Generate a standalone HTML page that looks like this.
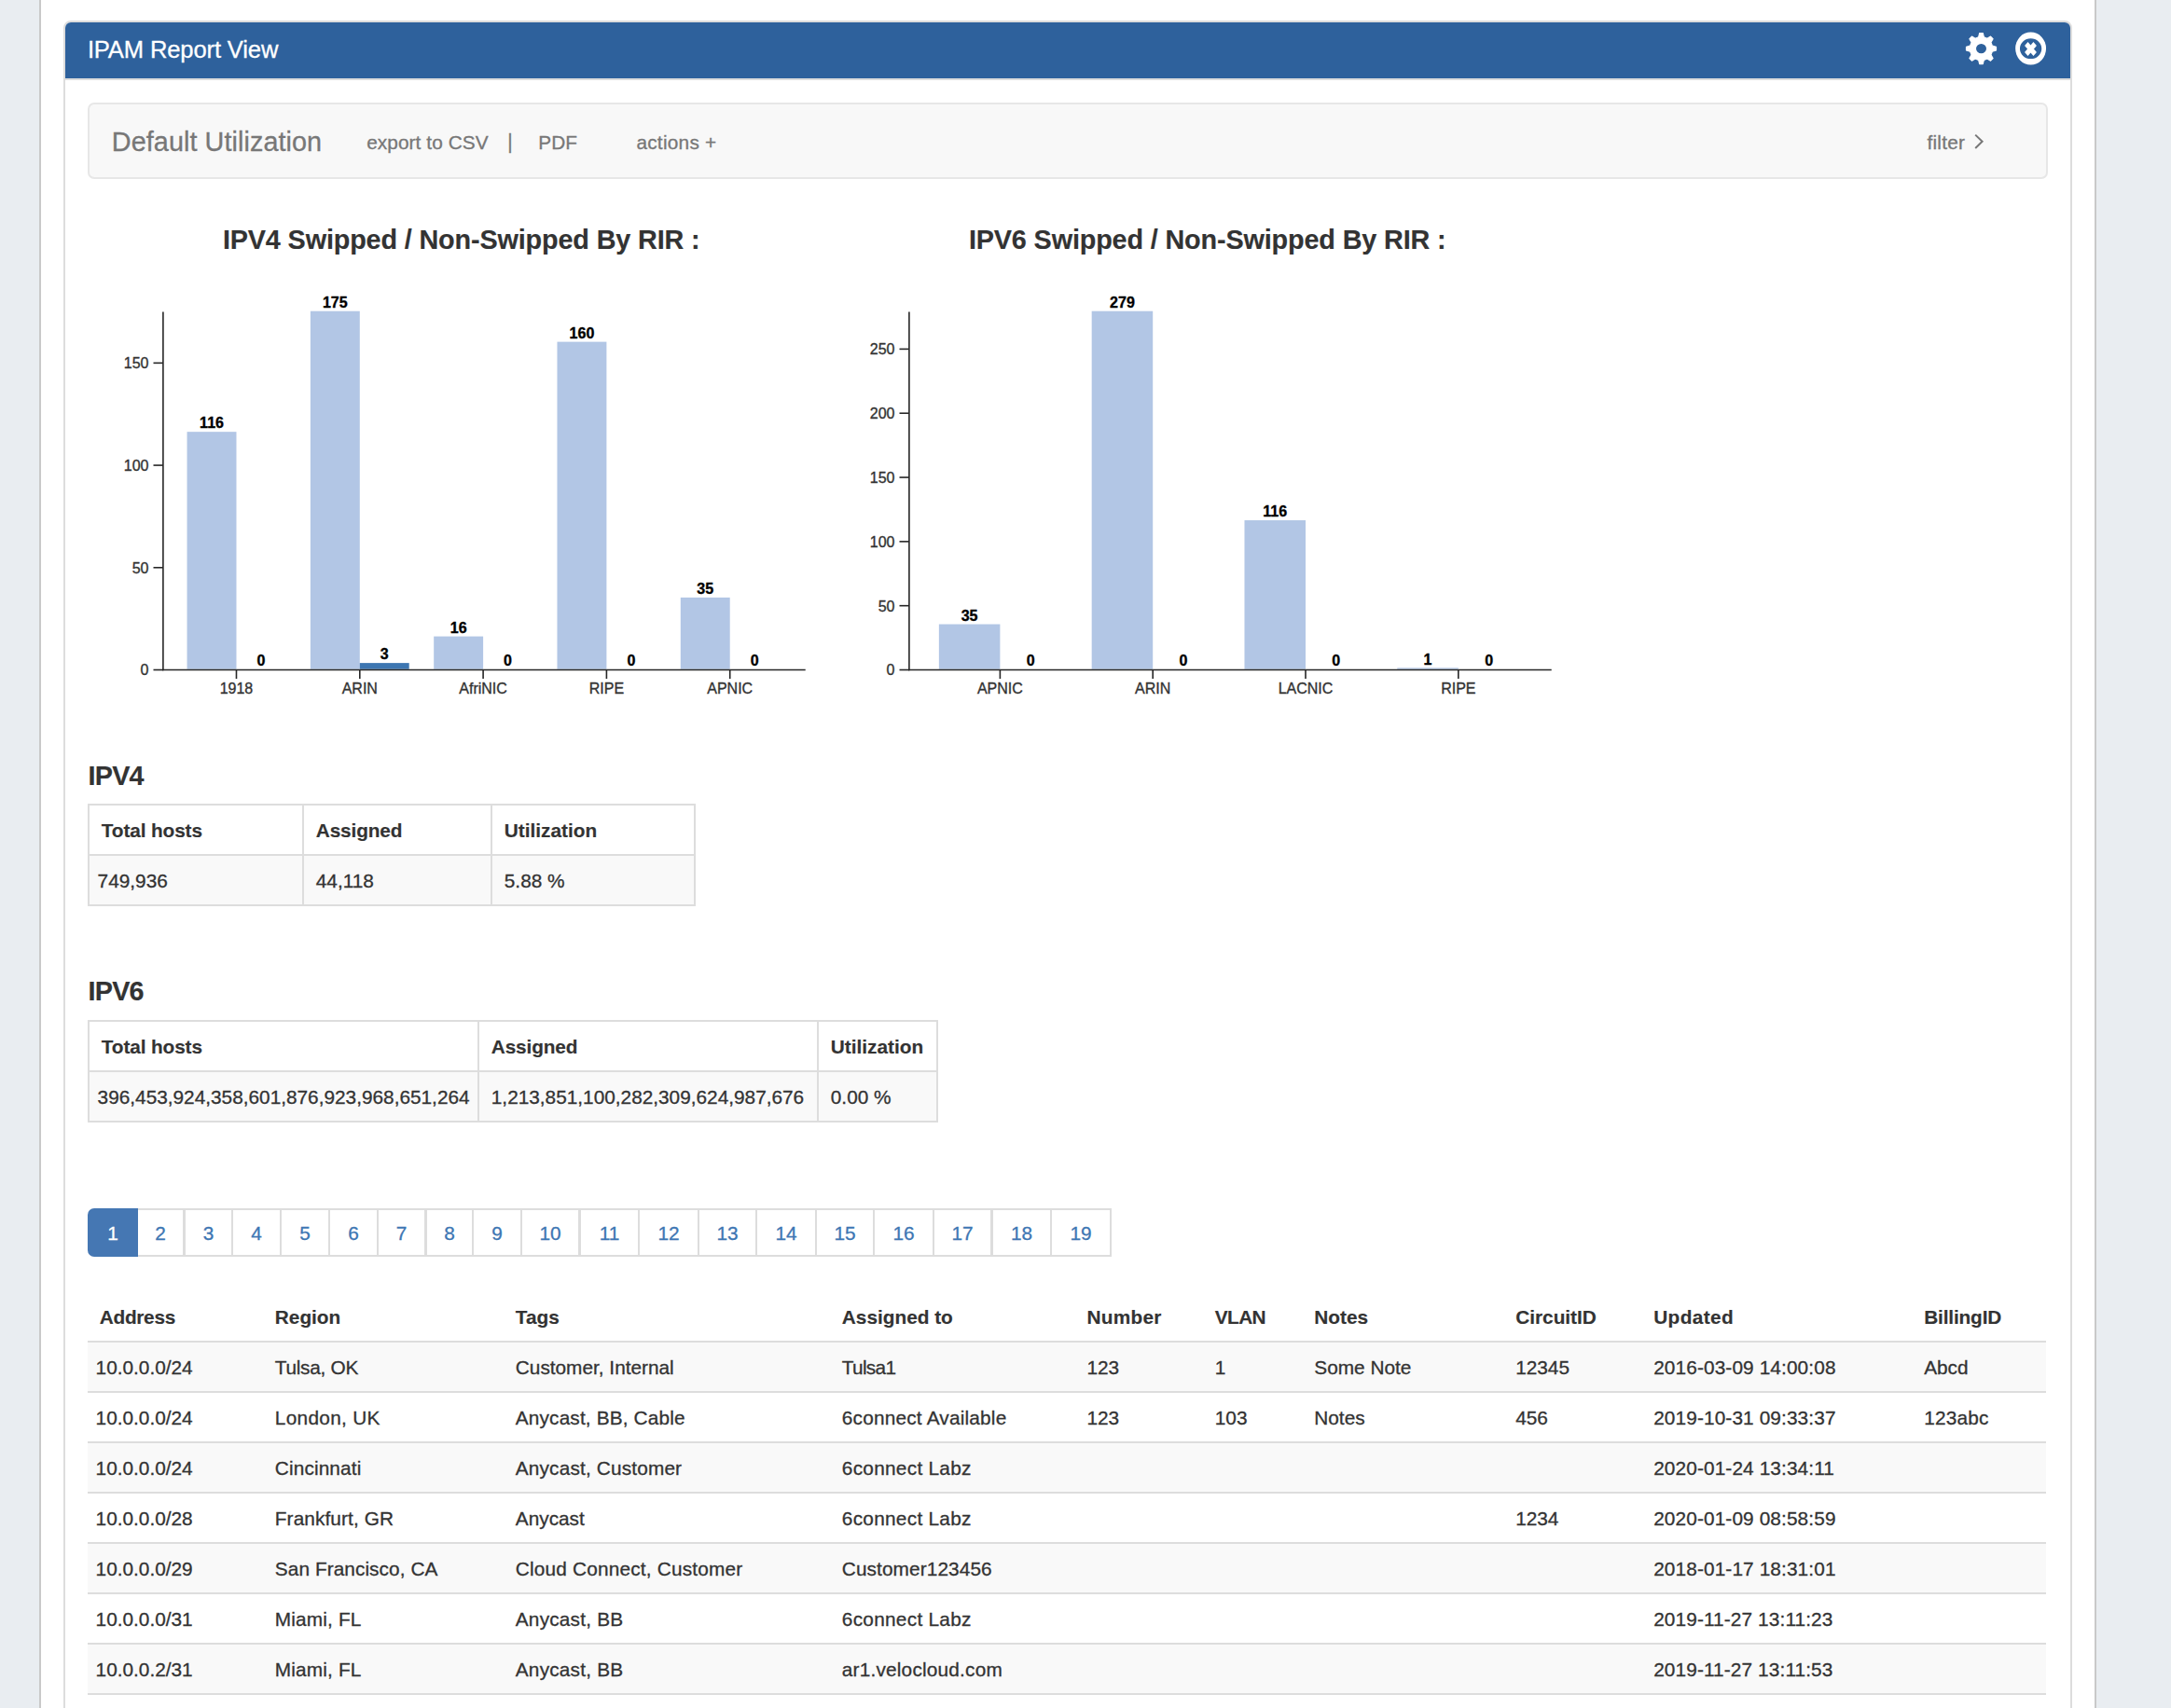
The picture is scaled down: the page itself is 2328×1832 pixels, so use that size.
<!DOCTYPE html>
<html lang="en"><head><meta charset="utf-8"><title>IPAM Report View</title>
<style>
*{box-sizing:border-box;}
html,body{margin:0;padding:0;}
body{-webkit-text-stroke:0.3px;width:2328px;height:1832px;overflow:hidden;background:#fff;font-family:"Liberation Sans", Arial, Helvetica, sans-serif;color:#333;font-size:20.8px;position:relative;}
.abs{position:absolute;}
.t{position:absolute;white-space:nowrap;line-height:1;}
#lside{left:0;top:0;width:42px;height:1832px;background:#e9edf1;}
#lbord{left:42px;top:0;width:2px;height:1832px;background:#c9c9c9;}
#rside{left:2248px;top:0;width:80px;height:1832px;background:#e9edf1;}
#rbord{left:2246px;top:0;width:2px;height:1832px;background:#c9c9c9;}
#panel{left:68px;top:22px;width:2154px;height:1900px;border:2px solid #ddd;border-radius:8px;background:#fff;}
#phead{left:70px;top:24px;width:2150px;height:60px;background:#2e619c;border-radius:6px 6px 0 0;}
#pheadb{left:70px;top:84px;width:2150px;height:2px;background:#ddd;}
#ptitle{left:93.9px;top:40.6px;font-size:25.6px;color:#fff;letter-spacing:-0.15px;}
#nav{left:94px;top:110px;width:2102px;height:82px;background:#f8f8f8;border:2px solid #e7e7e7;border-radius:7px;}
.nv{color:#777;font-size:20.8px;}
#brand{left:119.8px;top:138px;font-size:28.8px;color:#777;letter-spacing:0.07px;}
.h4{font-size:28.8px;font-weight:700;color:#333;-webkit-text-stroke:0.15px;}
table{border-collapse:separate;border-spacing:0;position:absolute;font-size:20.8px;color:#333;}
td,th{padding:1px 0 0 12.8px;height:54px;line-height:29px;text-align:left;vertical-align:middle;white-space:nowrap;overflow:hidden;}
th{font-weight:700;-webkit-text-stroke:0.15px;}
table.bd{border-right:2px solid #ddd;border-bottom:2px solid #ddd;}
table.bd td,table.bd th{border-left:2px solid #ddd;border-top:2px solid #ddd;}
table.bd td{background:#f9f9f9;}
table.bd td:first-child{padding-left:8.6px;}
#main th{height:56px;border-bottom:2px solid #ddd;padding-top:3px;}
#main td{border-bottom:2px solid #ddd;}
#main td:first-child{padding-left:8.6px;}
#main tr.o td{background:#f9f9f9;}
.pg{position:absolute;top:1298px;height:48px;background:#fff;color:#3d76b3;font-size:20.8px;line-height:49px;text-align:center;}
.pg.act{top:1296px;height:52px;line-height:53px;background:#4577b3;color:#fff;border-radius:7px 0 0 7px;}
svg{position:absolute;left:0;top:0;}
svg text{font-family:"Liberation Sans", Arial, Helvetica, sans-serif;stroke-width:0.35px;}
</style></head>
<body>
<div class="abs" id="lside"></div><div class="abs" id="lbord"></div>
<div class="abs" id="rside"></div><div class="abs" id="rbord"></div>
<div class="abs" id="panel"></div>
<div class="abs" id="phead"></div><div class="abs" id="pheadb"></div>
<div class="t" id="ptitle">IPAM Report View</div>
<div class="abs" id="nav"></div>
<div class="t" id="brand">Default Utilization</div>
<div class="t nv" style="left:393.2px;top:142.5px;letter-spacing:0.08px">export to CSV</div>
<div class="t nv" style="left:544.3px;top:141.3px;transform:scaleY(1.1);transform-origin:50% 50%">|</div>
<div class="t nv" style="left:577.3px;top:142.5px">PDF</div>
<div class="t nv" style="left:682.4px;top:142.5px;letter-spacing:0.25px">actions +</div>
<div class="t nv" style="left:2066.5px;top:142.5px;letter-spacing:0.22px">filter</div>
<svg width="2328" height="1832" viewBox="0 0 2328 1832">
<g transform="translate(2124.50,52.10) scale(0.965,1) translate(-2124.50,-52.10)"><path d="M2121.54,39.75 L2122.67,35.50 L2126.33,35.50 L2127.46,39.75 L2131.14,41.28 L2134.94,39.07 L2137.53,41.66 L2135.32,45.46 L2136.85,49.14 L2141.10,50.27 L2141.10,53.93 L2136.85,55.06 L2135.32,58.74 L2137.53,62.54 L2134.94,65.13 L2131.14,62.92 L2127.46,64.45 L2126.33,68.70 L2122.67,68.70 L2121.54,64.45 L2117.86,62.92 L2114.06,65.13 L2111.47,62.54 L2113.68,58.74 L2112.15,55.06 L2107.90,53.93 L2107.90,50.27 L2112.15,49.14 L2113.68,45.46 L2111.47,41.66 L2114.06,39.07 L2117.86,41.28Z" fill="#fff" stroke="#fff" stroke-width="1.2" stroke-linejoin="round"/></g><ellipse cx="2124.50" cy="52.10" rx="5.50" ry="5.15" fill="#2e619c"/>
<path fill="#fff" fill-rule="evenodd" d="M2161.15,52.05 a16.45,17.45 0 1,0 32.9,0 a16.45,17.45 0 1,0 -32.9,0Z M2165.95,52.2 a11.65,10.9 0 1,0 23.3,0 a11.65,10.9 0 1,0 -23.3,0Z"/>
<g transform="translate(2177.5,52.5) scale(1,1.15)"><path d="M-4.7,-4.7 L4.7,4.7 M4.7,-4.7 L-4.7,4.7" stroke="#fff" stroke-width="4.9" stroke-linecap="butt" fill="none"/></g>
<path d="M2118.2,144.6 L2125.6,151.8 L2118.2,159" stroke="#777" stroke-width="2" fill="none"/>
<rect x="200.56" y="463.16" width="52.92" height="254.54" fill="#b2c6e5"/>
<text x="227.02" y="459.36" text-anchor="middle" font-size="16" font-weight="700" fill="#000" stroke="#000" stroke-width="0.2">116</text>
<text x="279.95" y="713.90" text-anchor="middle" font-size="16" font-weight="700" fill="#000" stroke="#000" stroke-width="0.2">0</text>
<rect x="332.87" y="333.70" width="52.92" height="384.00" fill="#b2c6e5"/>
<text x="359.33" y="329.90" text-anchor="middle" font-size="16" font-weight="700" fill="#000" stroke="#000" stroke-width="0.2">175</text>
<rect x="385.79" y="711.12" width="52.92" height="6.58" fill="#3d76b1"/>
<text x="412.25" y="707.32" text-anchor="middle" font-size="16" font-weight="700" fill="#000" stroke="#000" stroke-width="0.2">3</text>
<rect x="465.18" y="682.59" width="52.92" height="35.11" fill="#b2c6e5"/>
<text x="491.64" y="678.79" text-anchor="middle" font-size="16" font-weight="700" fill="#000" stroke="#000" stroke-width="0.2">16</text>
<text x="544.56" y="713.90" text-anchor="middle" font-size="16" font-weight="700" fill="#000" stroke="#000" stroke-width="0.2">0</text>
<rect x="597.48" y="366.61" width="52.92" height="351.09" fill="#b2c6e5"/>
<text x="623.95" y="362.81" text-anchor="middle" font-size="16" font-weight="700" fill="#000" stroke="#000" stroke-width="0.2">160</text>
<text x="676.87" y="713.90" text-anchor="middle" font-size="16" font-weight="700" fill="#000" stroke="#000" stroke-width="0.2">0</text>
<rect x="729.79" y="640.90" width="52.92" height="76.80" fill="#b2c6e5"/>
<text x="756.25" y="637.10" text-anchor="middle" font-size="16" font-weight="700" fill="#000" stroke="#000" stroke-width="0.2">35</text>
<text x="809.18" y="713.90" text-anchor="middle" font-size="16" font-weight="700" fill="#000" stroke="#000" stroke-width="0.2">0</text>
<path d="M174.90,334.50 V719.30" stroke="#262626" stroke-width="1.6" fill="none"/>
<path d="M174.10,718.50 H863.70" stroke="#262626" stroke-width="1.6" fill="none"/>
<path d="M164.50,718.50 H174.90" stroke="#262626" stroke-width="1.6"/>
<text x="159.50" y="724.40" text-anchor="end" font-size="16" fill="#333" stroke="#333">0</text>
<path d="M164.50,608.79 H174.90" stroke="#262626" stroke-width="1.6"/>
<text x="159.50" y="614.69" text-anchor="end" font-size="16" fill="#333" stroke="#333">50</text>
<path d="M164.50,499.07 H174.90" stroke="#262626" stroke-width="1.6"/>
<text x="159.50" y="504.97" text-anchor="end" font-size="16" fill="#333" stroke="#333">100</text>
<path d="M164.50,389.36 H174.90" stroke="#262626" stroke-width="1.6"/>
<text x="159.50" y="395.26" text-anchor="end" font-size="16" fill="#333" stroke="#333">150</text>
<path d="M253.48,718.50 V728.10" stroke="#262626" stroke-width="1.6"/>
<text x="253.48" y="743.90" text-anchor="middle" font-size="16" fill="#333" stroke="#333">1918</text>
<path d="M385.79,718.50 V728.10" stroke="#262626" stroke-width="1.6"/>
<text x="385.79" y="743.90" text-anchor="middle" font-size="16" fill="#333" stroke="#333">ARIN</text>
<path d="M518.10,718.50 V728.10" stroke="#262626" stroke-width="1.6"/>
<text x="518.10" y="743.90" text-anchor="middle" font-size="16" fill="#333" stroke="#333">AfriNIC</text>
<path d="M650.41,718.50 V728.10" stroke="#262626" stroke-width="1.6"/>
<text x="650.41" y="743.90" text-anchor="middle" font-size="16" fill="#333" stroke="#333">RIPE</text>
<path d="M782.72,718.50 V728.10" stroke="#262626" stroke-width="1.6"/>
<text x="782.72" y="743.90" text-anchor="middle" font-size="16" fill="#333" stroke="#333">APNIC</text>
<rect x="1006.86" y="669.53" width="65.52" height="48.17" fill="#b2c6e5"/>
<text x="1039.62" y="665.73" text-anchor="middle" font-size="16" font-weight="700" fill="#000" stroke="#000" stroke-width="0.2">35</text>
<text x="1105.15" y="713.90" text-anchor="middle" font-size="16" font-weight="700" fill="#000" stroke="#000" stroke-width="0.2">0</text>
<rect x="1170.67" y="333.70" width="65.52" height="384.00" fill="#b2c6e5"/>
<text x="1203.43" y="329.90" text-anchor="middle" font-size="16" font-weight="700" fill="#000" stroke="#000" stroke-width="0.2">279</text>
<text x="1268.96" y="713.90" text-anchor="middle" font-size="16" font-weight="700" fill="#000" stroke="#000" stroke-width="0.2">0</text>
<rect x="1334.48" y="558.04" width="65.52" height="159.66" fill="#b2c6e5"/>
<text x="1367.24" y="554.24" text-anchor="middle" font-size="16" font-weight="700" fill="#000" stroke="#000" stroke-width="0.2">116</text>
<text x="1432.77" y="713.90" text-anchor="middle" font-size="16" font-weight="700" fill="#000" stroke="#000" stroke-width="0.2">0</text>
<rect x="1498.29" y="716.32" width="65.52" height="1.38" fill="#b2c6e5"/>
<text x="1531.05" y="712.52" text-anchor="middle" font-size="16" font-weight="700" fill="#000" stroke="#000" stroke-width="0.2">1</text>
<text x="1596.58" y="713.90" text-anchor="middle" font-size="16" font-weight="700" fill="#000" stroke="#000" stroke-width="0.2">0</text>
<path d="M974.90,334.50 V719.30" stroke="#262626" stroke-width="1.6" fill="none"/>
<path d="M974.10,718.50 H1663.70" stroke="#262626" stroke-width="1.6" fill="none"/>
<path d="M964.50,718.50 H974.90" stroke="#262626" stroke-width="1.6"/>
<text x="959.50" y="724.40" text-anchor="end" font-size="16" fill="#333" stroke="#333">0</text>
<path d="M964.50,649.68 H974.90" stroke="#262626" stroke-width="1.6"/>
<text x="959.50" y="655.58" text-anchor="end" font-size="16" fill="#333" stroke="#333">50</text>
<path d="M964.50,580.87 H974.90" stroke="#262626" stroke-width="1.6"/>
<text x="959.50" y="586.77" text-anchor="end" font-size="16" fill="#333" stroke="#333">100</text>
<path d="M964.50,512.05 H974.90" stroke="#262626" stroke-width="1.6"/>
<text x="959.50" y="517.95" text-anchor="end" font-size="16" fill="#333" stroke="#333">150</text>
<path d="M964.50,443.23 H974.90" stroke="#262626" stroke-width="1.6"/>
<text x="959.50" y="449.13" text-anchor="end" font-size="16" fill="#333" stroke="#333">200</text>
<path d="M964.50,374.41 H974.90" stroke="#262626" stroke-width="1.6"/>
<text x="959.50" y="380.31" text-anchor="end" font-size="16" fill="#333" stroke="#333">250</text>
<path d="M1072.39,718.50 V728.10" stroke="#262626" stroke-width="1.6"/>
<text x="1072.39" y="743.90" text-anchor="middle" font-size="16" fill="#333" stroke="#333">APNIC</text>
<path d="M1236.20,718.50 V728.10" stroke="#262626" stroke-width="1.6"/>
<text x="1236.20" y="743.90" text-anchor="middle" font-size="16" fill="#333" stroke="#333">ARIN</text>
<path d="M1400.00,718.50 V728.10" stroke="#262626" stroke-width="1.6"/>
<text x="1400.00" y="743.90" text-anchor="middle" font-size="16" fill="#333" stroke="#333">LACNIC</text>
<path d="M1563.81,718.50 V728.10" stroke="#262626" stroke-width="1.6"/>
<text x="1563.81" y="743.90" text-anchor="middle" font-size="16" fill="#333" stroke="#333">RIPE</text>
</svg>
<div class="t h4" style="left:238.9px;top:242.5px;letter-spacing:-0.15px">IPV4 Swipped / Non-Swipped By RIR :</div>
<div class="t h4" style="left:1038.9px;top:242.5px;letter-spacing:-0.15px">IPV6 Swipped / Non-Swipped By RIR :</div>
<div class="t h4" style="left:94.6px;top:817.5px;letter-spacing:-0.8px">IPV4</div>
<div class="t h4" style="left:94.6px;top:1049.2px;letter-spacing:-0.8px">IPV6</div>
<table class="bd" style="left:94px;top:862px;width:652px;table-layout:fixed"><colgroup><col style="width:230px"><col style="width:202px"><col style="width:218px"></colgroup><tr><th><span style="letter-spacing:-0.12px">Total hosts</span></th><th><span style="letter-spacing:-0.15px">Assigned</span></th><th>Utilization</th></tr><tr><td>749,936</td><td>44,118</td><td>5.88 %</td></tr></table>
<table class="bd" style="left:94px;top:1094px;width:912px;table-layout:fixed"><colgroup><col style="width:418px"><col style="width:364px"><col style="width:128px"></colgroup><tr><th><span style="letter-spacing:-0.12px">Total hosts</span></th><th><span style="letter-spacing:-0.15px">Assigned</span></th><th>Utilization</th></tr><tr><td>396,453,924,358,601,876,923,968,651,264</td><td>1,213,851,100,282,309,624,987,676</td><td>0.00 %</td></tr></table>
<div class="abs" style="left:146px;top:1296px;width:1046px;height:52px;background:#ddd"></div>
<div class="pg act" style="left:94px;width:54px">1</div>
<div class="pg" style="left:148px;width:48px">2</div>
<div class="pg" style="left:199px;width:49px">3</div>
<div class="pg" style="left:250px;width:50px">4</div>
<div class="pg" style="left:302px;width:50px">5</div>
<div class="pg" style="left:354px;width:50px">6</div>
<div class="pg" style="left:406px;width:49px">7</div>
<div class="pg" style="left:458px;width:48px">8</div>
<div class="pg" style="left:508px;width:50px">9</div>
<div class="pg" style="left:560px;width:60px">10</div>
<div class="pg" style="left:623px;width:61px">11</div>
<div class="pg" style="left:686px;width:62px">12</div>
<div class="pg" style="left:750px;width:60px">13</div>
<div class="pg" style="left:812px;width:62px">14</div>
<div class="pg" style="left:876px;width:60px">15</div>
<div class="pg" style="left:938px;width:62px">16</div>
<div class="pg" style="left:1002px;width:60px">17</div>
<div class="pg" style="left:1065px;width:61px">18</div>
<div class="pg" style="left:1128px;width:62px">19</div>
<table id="main" style="left:94px;top:1384px;width:2100px;table-layout:fixed"><colgroup><col style="width:188.0px"><col style="width:258.0px"><col style="width:350.0px"><col style="width:262.6px"><col style="width:137.4px"><col style="width:106.5px"><col style="width:215.9px"><col style="width:148.0px"><col style="width:290.0px"><col style="width:143.6px"></colgroup><tr><th><span style="letter-spacing:-0.3px">Address</span></th><th>Region</th><th>Tags</th><th>Assigned to</th><th><span style="letter-spacing:0.3px">Number</span></th><th><span style="letter-spacing:-0.6px">VLAN</span></th><th>Notes</th><th>CircuitID</th><th><span style="letter-spacing:0.4px">Updated</span></th><th><span style="letter-spacing:-0.15px">BillingID</span></th></tr><tr class="o"><td>10.0.0.0/24</td><td><span style="letter-spacing:-0.27px">Tulsa, OK</span></td><td>Customer, Internal</td><td><span style="letter-spacing:-0.7px">Tulsa1</span></td><td>123</td><td>1</td><td>Some Note</td><td>12345</td><td><span style="letter-spacing:0.12px">2016-03-09 14:00:08</span></td><td>Abcd</td></tr><tr class="e"><td>10.0.0.0/24</td><td><span style="letter-spacing:0.3px">London, UK</span></td><td><span style="letter-spacing:0.15px">Anycast, BB, Cable</span></td><td><span style="letter-spacing:0.2px">6connect Available</span></td><td>123</td><td>103</td><td>Notes</td><td>456</td><td><span style="letter-spacing:0.12px">2019-10-31 09:33:37</span></td><td><span style="letter-spacing:0.2px">123abc</span></td></tr><tr class="o"><td>10.0.0.0/24</td><td><span style="letter-spacing:0.13px">Cincinnati</span></td><td><span style="letter-spacing:0.16px">Anycast, Customer</span></td><td><span style="letter-spacing:0.28px">6connect Labz</span></td><td></td><td></td><td></td><td></td><td><span style="letter-spacing:0.12px">2020-01-24 13:34:11</span></td><td></td></tr><tr class="e"><td>10.0.0.0/28</td><td><span style="letter-spacing:0.1px">Frankfurt, GR</span></td><td>Anycast</td><td><span style="letter-spacing:0.28px">6connect Labz</span></td><td></td><td></td><td></td><td>1234</td><td><span style="letter-spacing:0.12px">2020-01-09 08:58:59</span></td><td></td></tr><tr class="o"><td>10.0.0.0/29</td><td><span style="letter-spacing:0.075px">San Francisco, CA</span></td><td><span style="letter-spacing:0.19px">Cloud Connect, Customer</span></td><td><span style="letter-spacing:0.1px">Customer123456</span></td><td></td><td></td><td></td><td></td><td><span style="letter-spacing:0.12px">2018-01-17 18:31:01</span></td><td></td></tr><tr class="e"><td>10.0.0.0/31</td><td><span style="letter-spacing:0.17px">Miami, FL</span></td><td><span style="letter-spacing:0.2px">Anycast, BB</span></td><td><span style="letter-spacing:0.28px">6connect Labz</span></td><td></td><td></td><td></td><td></td><td><span style="letter-spacing:0.12px">2019-11-27 13:11:23</span></td><td></td></tr><tr class="o"><td>10.0.0.2/31</td><td><span style="letter-spacing:0.17px">Miami, FL</span></td><td><span style="letter-spacing:0.2px">Anycast, BB</span></td><td><span style="letter-spacing:0.2px">ar1.velocloud.com</span></td><td></td><td></td><td></td><td></td><td><span style="letter-spacing:0.12px">2019-11-27 13:11:53</span></td><td></td></tr><tr class="e"><td>10.0.0.4/31</td><td><span style="letter-spacing:0.17px">Miami, FL</span></td><td><span style="letter-spacing:0.2px">Anycast, BB</span></td><td><span style="letter-spacing:0.28px">6connect Labz</span></td><td></td><td></td><td></td><td></td><td><span style="letter-spacing:0.12px">2019-11-27 13:12:10</span></td><td></td></tr></table>
</body></html>
